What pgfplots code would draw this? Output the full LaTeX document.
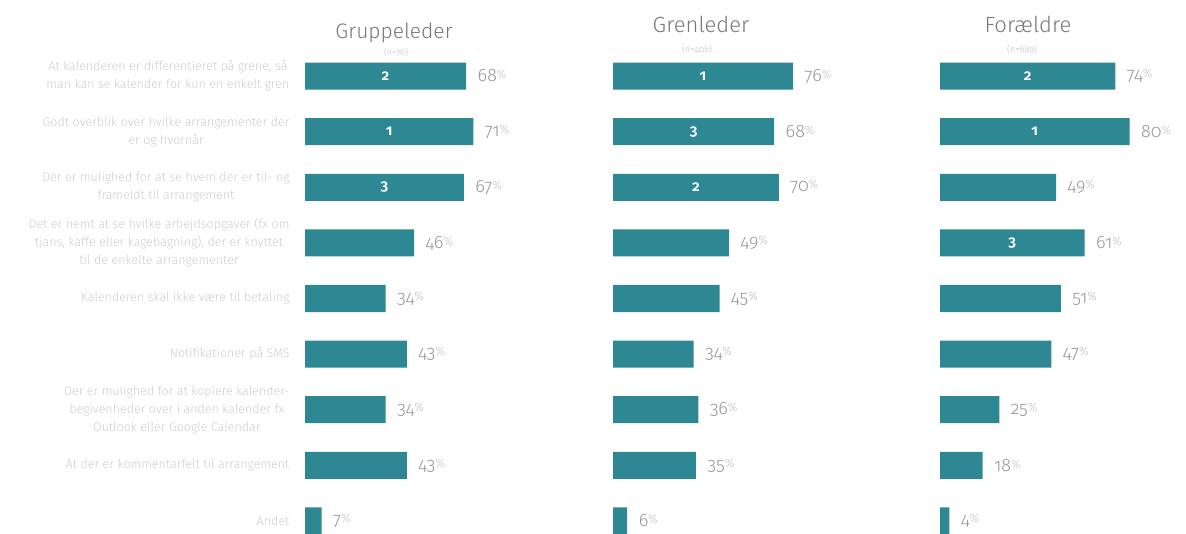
\documentclass[border=0pt]{standalone}
\usepackage{fontspec}
\setmainfont{Fira Sans Light}[Numbers=OldStyle, BoldFont={Fira Sans SemiBold}]
\usepackage{pgfplots}
\pgfplotsset{compat=1.18}
\definecolor{barc}{RGB}{46,136,148}
\definecolor{lbl}{RGB}{205,205,205}
\definecolor{val}{RGB}{150,150,150}
\definecolor{pct}{RGB}{190,190,190}
\definecolor{ttl}{RGB}{120,120,120}
\newcommand{\pc}{{\color{pct}\fontsize{12}{12}\selectfont\raisebox{3pt}{\%}}}
\pgfplotsset{panel/.style={
  scale only axis, width=237pt, height=500.6pt,
  xmin=0, xmax=100, ymin=-0.5, ymax=8.5, y dir=reverse,
  xbar, bar width=27pt, bar shift=0pt,
  axis line style={draw=none}, xtick=\empty, ytick=\empty, major tick length=0pt,
  clip=false, anchor=north west,
  /pgf/number format/assume math mode=true,
  nodes near coords={\pgfmathprintnumber{\pgfplotspointmeta}\pc},
  nodes near coords align={horizontal},
  every node near coord/.append style={text=val, font=\fontsize{18}{18}\selectfont, anchor=west, xshift=8pt},
}}
\tikzset{rank/.style={text=white, font=\bfseries\fontsize{15}{15}\selectfont}}
\begin{document}
\begin{tikzpicture}
\useasboundingbox (0,0) rectangle (1186pt,533pt);
% titles
\node[text=ttl, font=\fontsize{21}{21}\selectfont, anchor=base] at (394pt,494pt) {Gruppeleder};
\node[text=pct, font=\fontsize{9}{9}\selectfont] at (396pt,481pt) {(n=76)};
\node[text=ttl, font=\fontsize{22}{22}\selectfont, anchor=base] at (701pt,500pt) {Grenleder};
\node[text=pct, font=\fontsize{9}{9}\selectfont] at (697pt,484pt) {(n=406)};
\node[text=ttl, font=\fontsize{22}{22}\selectfont, anchor=base] at (1028pt,500pt) {Forældre};
\node[text=pct, font=\fontsize{9}{9}\selectfont] at (1022pt,484pt) {(n=689)};

\begin{axis}[panel, at={(305pt,484.8pt)},
  ytick={0,...,8},
  yticklabels={
    {At kalenderen er differentieret på grene, så\\man kan se kalender for kun en enkelt gren},
    {Godt overblik over hvilke arrangementer der\\er og hvornår},
    {Der er mulighed for at se hvem der er til- og\\frameldt til arrangement},
    {Det er nemt at se hvilke arbejdsopgaver (fx om\\tjans, kaffe eller kagebagning), der er knyttet\\til de enkelte arrangementer},
    {Kalenderen skal ikke være til betaling},
    {Notifikationer på SMS},
    {Der er mulighed for at kopiere kalender-\\begivenheder over i anden kalender fx\\Outlook eller Google Calendar},
    {At der er kommentarfelt til arrangement},
    {Andet}},
  yticklabel style={align=center, text=lbl, font=\fontsize{12.5}{18}\selectfont, xshift=-12pt},
]
\addplot[fill=barc, draw=none] coordinates {(68,0) (71,1) (67,2) (46,3) (34,4) (43,5) (34,6) (43,7) (7,8)};
\node[rank] at (axis cs:34,0) {2};
\node[rank] at (axis cs:35.5,1) {1};
\node[rank] at (axis cs:33.5,2) {3};
\end{axis}

\begin{axis}[panel, at={(613pt,484.8pt)}]
\addplot[fill=barc, draw=none] coordinates {(76,0) (68,1) (70,2) (49,3) (45,4) (34,5) (36,6) (35,7) (6,8)};
\node[rank] at (axis cs:38,0) {1};
\node[rank] at (axis cs:34,1) {3};
\node[rank] at (axis cs:35,2) {2};
\end{axis}

\begin{axis}[panel, at={(940pt,484.8pt)}]
\addplot[fill=barc, draw=none] coordinates {(74,0) (80,1) (49,2) (61,3) (51,4) (47,5) (25,6) (18,7) (4,8)};
\node[rank] at (axis cs:37,0) {2};
\node[rank] at (axis cs:40,1) {1};
\node[rank] at (axis cs:30.5,3) {3};
\end{axis}
\end{tikzpicture}
\end{document}
